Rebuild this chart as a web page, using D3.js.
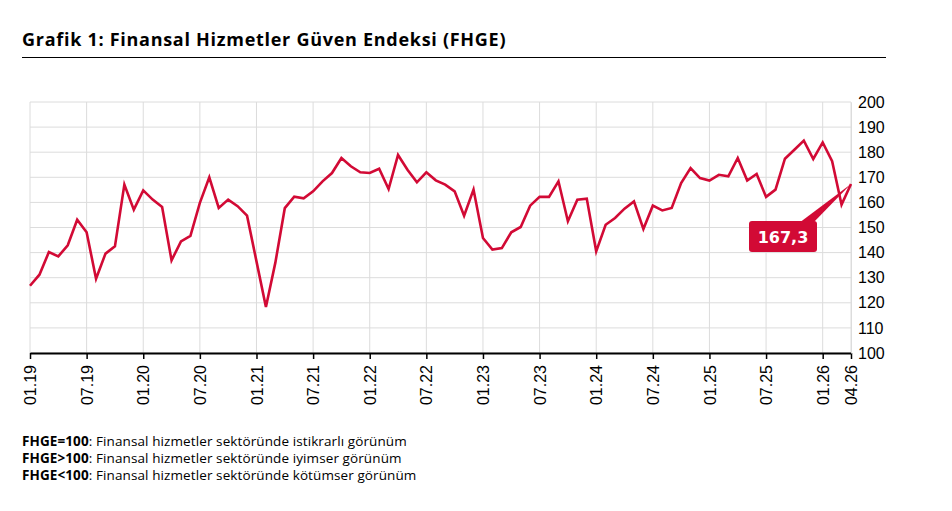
<!DOCTYPE html>
<html>
<head>
<meta charset="utf-8">
<script src="https://cdn.jsdelivr.net/npm/d3@7"></script>
<style>
  body { margin: 0; background: #fff; }
  svg text { fill: #000; }
</style>
</head>
<body>
<div class="chart"></div>
<script>
// FHGE monthly values, 01.19 .. 04.26
const fhge = [
  126.8, 131.2, 140.2, 138.5, 142.9, 153.1, 148.1, 129.6, 139.6, 142.5, 167.1, 157.1,
  164.8, 161.1, 158.2, 136.9, 144.5, 146.7, 159.8, 170.0, 157.8, 161.1, 158.5, 154.7,
  136.5, 118.3, 136.0, 157.7, 162.3, 161.6, 164.4, 168.4, 171.7, 177.7, 174.4, 172.0,
  171.7, 173.4, 165.3, 178.9, 173.0, 168.0, 172.0, 168.8, 167.1, 164.4, 154.7, 165.1,
  145.8, 141.2, 141.8, 148.1, 150.2, 158.7, 162.2, 162.2, 168.4, 152.5, 161.1, 161.5,
  140.5, 151.1, 153.8, 157.5, 160.4, 149.4, 158.7, 156.8, 157.8, 167.7, 173.7, 169.7,
  168.7, 171.0, 170.4, 177.7, 168.7, 171.3, 162.2, 165.1, 177.4, 181.0, 184.6, 177.3,
  183.9, 176.4, 159.1, 167.3
]

const xTickLabels = ['01.19', '07.19', '01.20', '07.20', '01.21', '07.21', '01.22', '07.22',
  '01.23', '07.23', '01.24', '07.24', '01.25', '07.25', '01.26', '04.26']
const yTicks = [100, 110, 120, 130, 140, 150, 160, 170, 180, 190, 200]

const title = 'Grafik 1: Finansal Hizmetler Güven Endeksi (FHGE)'
const notes = [
  ['FHGE=100', ': Finansal hizmetler sektöründe istikrarlı görünüm'],
  ['FHGE>100', ': Finansal hizmetler sektöründe iyimser görünüm'],
  ['FHGE<100', ': Finansal hizmetler sektöründe kötümser görünüm']
]

// month labels MM.YY
const months = []
for (let i = 0; i < fhge.length; i++) {
  const m = i % 12 + 1
  const yr = 19 + Math.floor(i / 12)
  months.push((m < 10 ? '0' : '') + m + '.' + yr)
}
const data = months.map((m, i) => ({ month: m, value: fhge[i] }))

const red = '#d20a35'
const width = 952, height = 511
const plotLeft = 30, plotRight = 851, plotTop = 102, plotBottom = 353

const svg = d3.select('.chart')
  .append('svg')
  .attr('width', width)
  .attr('height', height)
  .style('font-family', '"Open Sans", sans-serif')

const x = d3.scalePoint().domain(months).range([plotLeft, plotRight])
const y = d3.scaleLinear().domain([100, 200]).range([plotBottom, plotTop])

// title + rule
svg.append('text')
  .attr('x', 22).attr('y', 45.5)
  .style('font-size', '18px')
  .style('font-weight', 'bold')
  .style('letter-spacing', '0.72px')
  .text(title)

svg.append('line')
  .attr('x1', 22).attr('x2', 886)
  .attr('y1', 57.5).attr('y2', 57.5)
  .attr('stroke', '#000')
  .attr('stroke-width', 1)

// grid
svg.append('g')
  .selectAll('line')
  .data(yTicks)
  .enter()
  .append('line')
    .attr('x1', plotLeft).attr('x2', plotRight)
    .attr('y1', d => y(d)).attr('y2', d => y(d))
    .attr('stroke', '#dcdcdc')
    .attr('stroke-width', 1)

svg.append('g')
  .selectAll('line')
  .data(xTickLabels)
  .enter()
  .append('line')
    .attr('x1', d => x(d)).attr('x2', d => x(d))
    .attr('y1', plotTop).attr('y2', plotBottom)
    .attr('stroke', '#dcdcdc')
    .attr('stroke-width', 1)

// x axis
const xAxis = svg.append('g')
  .attr('transform', `translate(0,${plotBottom})`)
  .call(d3.axisBottom(x).tickValues(xTickLabels).tickSize(6).tickSizeOuter(0))

xAxis.select('.domain').attr('stroke', '#000').attr('stroke-width', 2)
xAxis.selectAll('.tick line').attr('stroke', '#000').attr('stroke-width', 1.5)
xAxis.selectAll('.tick text')
  .style('font-family', '"Liberation Sans", Arial, sans-serif')
  .style('font-size', '16px')
  .attr('text-anchor', 'end')
  .attr('transform', 'rotate(-90)')
  .attr('x', -12)
  .attr('y', 0)
  .attr('dy', '0.35em')

// y axis on the right
const yAxis = svg.append('g')
  .attr('transform', `translate(${plotRight},0)`)
  .call(d3.axisRight(y).tickValues(yTicks).tickSize(0).tickPadding(7))

yAxis.select('.domain').attr('stroke', '#dcdcdc')
yAxis.selectAll('.tick text')
  .style('font-family', '"Liberation Sans", Arial, sans-serif')
  .style('font-size', '16px')

// line
const line = d3.line()
  .x(d => x(d.month))
  .y(d => y(d.value))

svg.append('path')
  .datum(data)
  .attr('d', line)
  .attr('fill', 'none')
  .attr('stroke', red)
  .attr('stroke-width', 2.6)
  .attr('stroke-linejoin', 'miter')

// callout for last value
const last = data[data.length - 1]
const px = x(last.month), py = y(last.value)
const boxW = 68, boxH = 31
const boxX = px - 102, boxY = py + 37

svg.append('path')
  .attr('d', `M${boxX + 50},${boxY + 2} L${px},${py} L${boxX + 64},${boxY + 2} Z`)
  .attr('fill', red)

svg.append('rect')
  .attr('x', boxX).attr('y', boxY)
  .attr('width', boxW).attr('height', boxH)
  .attr('rx', 3)
  .attr('fill', red)

svg.append('text')
  .attr('x', boxX + boxW / 2).attr('y', boxY + 22)
  .attr('text-anchor', 'middle')
  .style('font-family', '"DejaVu Sans", sans-serif')
  .style('font-size', '16px')
  .style('font-weight', 'bold')
  .style('fill', '#fff')
  .text(d3.format('.1f')(last.value).replace('.', ','))

// footnotes
const foot = svg.append('g')
notes.forEach((n, i) => {
  const t = foot.append('text')
    .attr('x', 22).attr('y', 446 + i * 17)
    .style('font-size', '13.5px')
    .style('letter-spacing', '0.1px')
  t.append('tspan').style('font-weight', 'bold').text(n[0])
  t.append('tspan').text(n[1])
})
</script>
</body>
</html>
